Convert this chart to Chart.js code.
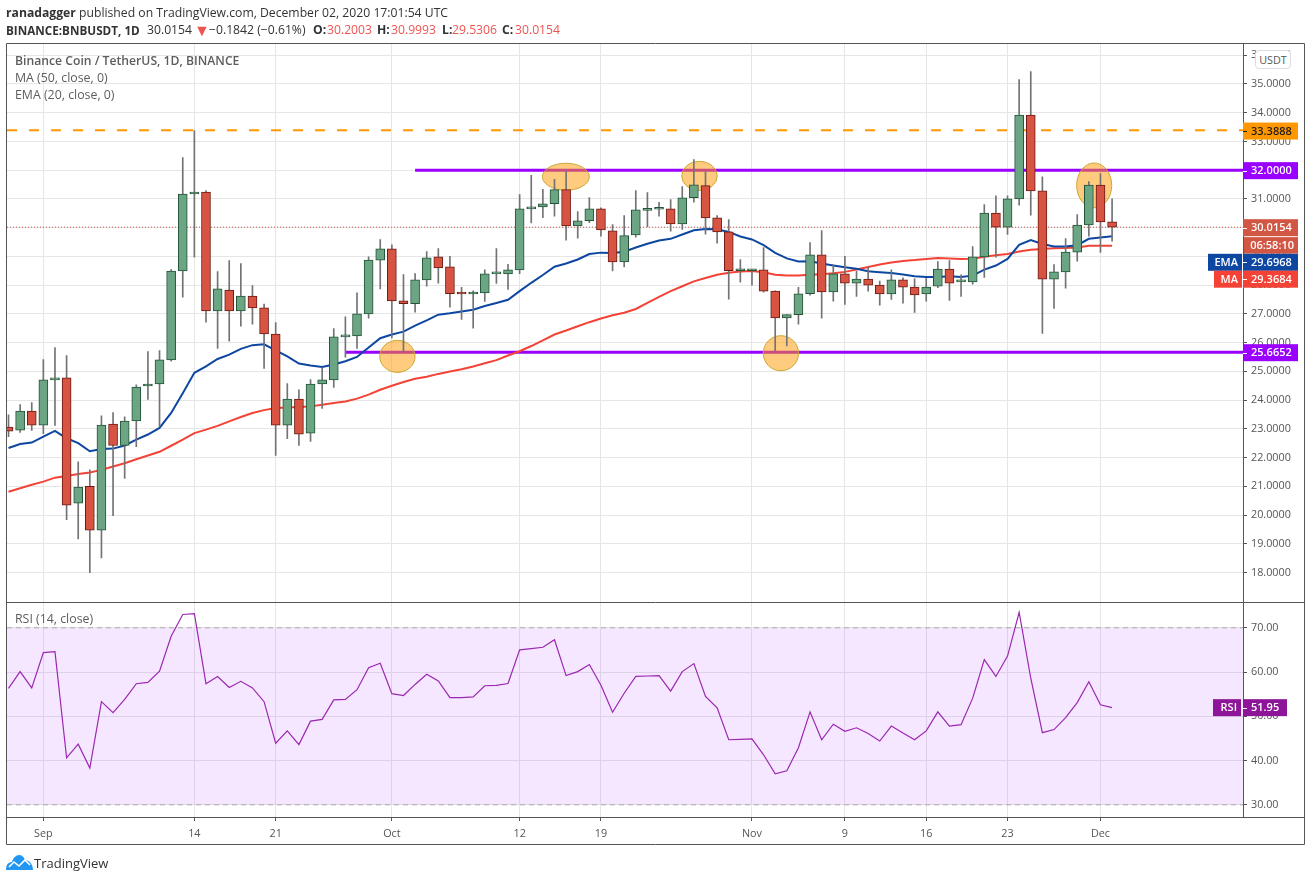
<!DOCTYPE html>
<html>
<head>
<meta charset="utf-8">
<title>BNBUSDT</title>
<script src="https://cdn.jsdelivr.net/npm/chart.js@4/dist/chart.umd.min.js"></script>
<style>
  html, body { margin: 0; padding: 0; background: #fff; overflow: hidden; }
  body { width: 1311px; height: 881px; position: relative; font-family: "Open Sans", sans-serif; }
  canvas { position: absolute; left: 0; top: 0; }
  .txt { position: absolute; white-space: nowrap; color: #333; line-height: 16px; }
  .head { font-size: 12.2px; left: 6px; color: #333; }
  .head b { font-weight: 700; }
  .row2 { top: 22px; }
  .red { color: #ef5350; }
  .leg { font-size: 12.35px; left: 15px; color: #5d5d5d; }
  #usdt { position: absolute; left: 1255px; top: 50px; width: 34px; height: 17px; border: 1px solid #dcdce6; border-radius: 4px;
          background: #fff; font-size: 10.8px; color: #555; text-align: center; line-height: 17px; }
  #logo { position: absolute; left: 6px; top: 855px; }
</style>
</head>
<body>
<canvas id="chart" width="1311" height="881"></canvas>
<div class="txt head" style="top:5px"><b>ranadagger</b> published on TradingView.com, December 02, 2020 17:01:54 UTC</div>
<div class="txt head row2" style="font-size:11.7px"><b>BINANCE:BNBUSDT, 1D</b></div>
<div class="txt head row2" style="left:147px">30.0154</div>
<div class="txt head row2 red" style="left:194px;font-size:16px">&#9660;</div>
<div class="txt head row2" style="left:209px">&minus;0.1842 (&minus;0.61%)</div>
<div class="txt head row2" style="left:313px"><b>O:</b></div>
<div class="txt head row2 red" style="left:327px">30.2003</div>
<div class="txt head row2" style="left:377px"><b>H:</b></div>
<div class="txt head row2 red" style="left:391px">30.9993</div>
<div class="txt head row2" style="left:442px"><b>L:</b></div>
<div class="txt head row2 red" style="left:452px">29.5306</div>
<div class="txt head row2" style="left:502px"><b>C:</b></div>
<div class="txt head row2 red" style="left:515px">30.0154</div>
<div class="txt leg" style="top:53px;font-weight:600;font-size:12.2px">Binance Coin / TetherUS, 1D, BINANCE</div>
<div class="txt leg" style="top:70px">MA (50, close, 0)</div>
<div class="txt leg" style="top:87px">EMA (20, close, 0)</div>
<div class="txt leg" style="top:611px">RSI (14, close)</div>
<div id="usdt">USDT</div>
<svg id="logo" width="27" height="15" viewBox="0 0 27 15">
  <path d="M0 15 C0 9 3 7 6 7 C7 3 10 0 13 0 C16 0 18 2 19 5 C23 5 27 9 27 15 Z" fill="#2196f3"/>
  <path d="M3 12 L8 7 L13 11 L19 5 L24 10" stroke="#fff" stroke-width="1.6" fill="none"/>
</svg>
<div class="txt" style="left:34px;top:855px;font-size:13px;color:#333">TradingView</div>

<script>
// daily candles, first one is 29 Aug 2020
var opens = [23.06,22.95,23.62,23.13,24.70,24.77,20.41,21.00,19.47,23.16,22.42,23.27,24.49,24.56,25.40,28.49,
  31.17,31.24,27.10,27.83,27.10,27.62,27.21,26.30,23.13,24.03,22.85,24.56,24.70,26.20,26.23,27.00,
  28.87,29.26,27.45,27.35,28.18,28.98,28.64,27.71,27.69,27.73,28.39,28.39,28.53,30.65,30.72,30.83,
  31.32,30.06,30.24,30.65,29.89,28.81,29.75,30.60,30.64,30.65,30.13,31.04,31.46,30.34,29.85,28.50,
  28.50,28.53,27.79,26.86,26.97,27.70,29.05,27.76,28.39,28.07,28.21,28.00,27.69,28.18,27.93,27.69,
  27.96,28.56,28.11,28.11,28.98,30.51,30.02,31.00,33.92,31.28,28.21,28.46,29.15,30.09,31.48,30.20];
var highs = [23.49,23.84,23.91,25.41,25.83,25.55,21.85,21.57,23.45,23.56,23.42,24.53,25.69,25.72,28.54,32.44,
  33.38,31.29,28.47,28.85,28.75,27.98,27.34,26.70,24.57,24.36,24.71,25.12,26.49,26.90,27.73,28.98,
  29.58,29.40,28.37,28.40,29.17,29.27,29.00,27.92,27.80,28.53,29.27,28.72,31.15,31.82,31.33,31.68,
  31.97,30.56,31.05,30.69,30.11,30.42,31.29,31.22,30.88,30.98,31.43,32.37,31.95,30.42,30.28,28.89,
  28.55,29.31,27.80,26.97,27.92,29.48,29.90,28.71,29.00,28.49,28.63,28.14,28.53,28.25,28.22,28.24,
  28.82,28.85,28.36,29.34,30.80,31.11,31.11,35.15,35.43,31.77,28.71,29.62,30.45,31.60,31.88,31.00];
var lows = [22.73,22.87,22.94,22.83,23.12,19.84,19.17,17.99,18.51,19.98,21.27,22.38,24.02,23.08,25.35,27.58,
  28.97,26.71,25.80,26.05,26.57,26.64,25.10,22.07,22.66,22.42,22.56,23.71,24.44,25.49,25.80,26.85,
  27.87,26.16,25.68,27.06,27.96,28.07,27.23,26.81,26.50,27.43,28.06,27.85,28.40,30.16,30.35,30.40,
  29.56,29.63,30.17,29.70,28.49,28.63,29.67,30.03,30.40,29.88,29.94,30.89,29.77,29.46,27.51,28.10,
  28.00,27.75,25.72,25.88,26.64,27.65,26.85,27.44,27.33,27.61,27.79,27.30,27.50,27.37,27.05,27.44,
  27.91,27.47,27.61,28.03,28.27,28.97,29.76,30.78,30.43,26.32,27.19,27.89,28.83,29.70,29.14,29.53];
var closes = [22.92,23.62,23.13,24.70,24.77,20.34,20.97,19.47,23.13,22.42,23.27,24.45,24.56,25.40,28.49,31.17,
  31.24,27.10,27.87,27.10,27.62,27.21,26.30,23.13,24.03,22.81,24.56,24.70,26.20,26.23,27.00,28.87,
  29.26,27.45,27.35,28.18,28.95,28.60,27.70,27.69,27.72,28.39,28.43,28.53,30.65,30.72,30.83,31.32,
  30.06,30.24,30.65,29.92,28.81,29.72,30.62,30.62,30.66,30.13,31.04,31.49,30.34,29.85,28.50,28.50,
  28.53,27.79,26.86,26.97,27.70,29.05,27.76,28.39,28.07,28.21,28.00,27.69,28.18,27.93,27.66,27.93,
  28.56,28.07,28.14,28.98,30.51,30.02,31.00,33.92,31.28,28.21,28.46,29.15,30.09,31.48,30.20,30.0154];

var ema20 = [22.33,22.47,22.52,22.73,22.93,22.67,22.50,22.22,22.30,22.31,22.42,22.62,22.80,23.03,23.55,24.24,
  24.95,25.17,25.43,25.58,25.78,25.91,25.94,25.73,25.52,25.27,25.20,25.15,25.24,25.35,25.50,25.83,
  26.15,26.28,26.38,26.59,26.77,26.97,27.02,27.08,27.14,27.27,27.38,27.49,27.79,28.08,28.35,28.64,
  28.75,28.89,29.08,29.13,29.12,29.16,29.31,29.44,29.55,29.61,29.76,29.91,29.95,29.94,29.85,29.69,
  29.59,29.39,29.12,28.93,28.82,28.83,28.75,28.68,28.62,28.57,28.48,28.45,28.42,28.37,28.31,28.28,
  28.28,28.31,28.28,28.33,28.54,28.68,28.91,29.40,29.57,29.43,29.34,29.34,29.39,29.61,29.66,29.6968];
var ma50 = [20.81,20.93,21.05,21.16,21.30,21.36,21.43,21.48,21.57,21.69,21.80,21.94,22.07,22.20,22.41,22.62,
  22.85,22.97,23.10,23.26,23.41,23.55,23.65,23.72,23.74,23.76,23.78,23.84,23.90,23.95,24.05,24.19,
  24.36,24.50,24.63,24.74,24.81,24.91,24.99,25.07,25.17,25.28,25.39,25.55,25.70,25.88,26.08,26.28,
  26.42,26.57,26.71,26.84,26.95,27.04,27.17,27.38,27.59,27.79,27.96,28.13,28.25,28.36,28.43,28.47,
  28.49,28.45,28.36,28.33,28.33,28.36,28.38,28.41,28.46,28.54,28.63,28.72,28.79,28.84,28.87,28.91,
  28.94,28.93,28.91,28.92,28.99,29.04,29.08,29.17,29.23,29.26,29.28,29.29,29.31,29.37,29.37,29.3684];
var rsi14 = [56.3,60.1,56.4,64.4,64.6,40.6,43.7,38.3,53.3,50.8,53.8,57.35,57.65,60.2,68.1,73.0,
  73.2,57.35,59.0,56.5,57.9,56.4,53.3,43.9,46.7,43.6,48.9,49.3,53.7,53.8,56.0,61.0,
  62.0,55.1,54.7,57.2,59.5,58.0,54.2,54.2,54.4,56.9,57.0,57.4,65.0,65.3,65.6,67.3,
  59.2,60.1,61.7,57.0,50.9,55.2,59.0,59.1,59.2,55.7,60.1,61.9,54.5,51.9,44.7,44.8,
  44.9,41.3,37.0,37.7,42.9,51.0,44.7,48.2,46.6,47.4,46.1,44.4,47.8,46.2,44.7,46.7,
  51.0,47.8,48.1,54.1,62.8,59.0,63.6,73.5,58.6,46.3,47.0,49.7,53.1,57.8,52.6,51.95];

var tickBars = [3,16,23,33,44,51,64,72,79,86,94];
var tickNames = ["Sep","14","21","Oct","12","19","Nov","9","16","23","Dec"];
var priceTicks = [18,19,20,21,22,23,24,25,26,27,28,29,30,31,32,33,34,35,36];
var rsiTicks = [30,40,50,60,70];

var resistance = 33.3888;
var upperLevel = 32;
var lowerLevel = 25.6652;
var lastPrice = 30.0154;

// orange marks: bar, price, half width in bars, half height in price
var markBars = [33.48,47.98,59.48,66.49,93.46];
var markPrices = [25.52,31.77,31.80,25.63,31.47];
var markW = [1.52,2.02,1.53,1.52,1.51];
var markH = [0.557,0.47,0.505,0.61,0.78];

var XMIN = -0.13, XMAX = 106.27;
var UP = "#6ba583", DOWN = "#d75442", UPB = "#225437", DOWNB = "#6b1a13";

function pts(arr) { return arr.map(function(v, i) { return {x: i, y: v}; }); }
function lvl(from, v) { return [{x: from, y: v}, {x: XMAX, y: v}]; }

var n = closes.length;
var isUp = closes.map(function(c, i) { return c >= opens[i]; });

var marksPlugin = {
  id: "marks",
  beforeDatasetDraw: function(chart, args) {
    if (chart.data.datasets[args.index].label !== "MA") return;
    var ctx = chart.ctx, xs = chart.scales.x, ys = chart.scales.y;
    ctx.save();
    for (var i = 0; i < markBars.length; i++) {
      var cx = xs.getPixelForValue(markBars[i]), cy = ys.getPixelForValue(markPrices[i]);
      var rx = xs.getPixelForValue(markBars[i] + markW[i]) - cx;
      var ry = cy - ys.getPixelForValue(markPrices[i] + markH[i]);
      ctx.beginPath();
      ctx.ellipse(cx, cy, rx, ry, 0, 0, Math.PI * 2);
      ctx.fillStyle = "rgba(255,152,0,0.5)";
      ctx.fill();
      ctx.strokeStyle = "#c9a832";
      ctx.lineWidth = 1;
      ctx.stroke();
    }
    ctx.restore();
  }
};

function badge(ctx, l, r, cy, h, bg, fg, text, tick) {
  ctx.fillStyle = bg;
  ctx.fillRect(l, cy - h / 2, r - l, h);
  if (tick) {
    ctx.strokeStyle = fg;
    ctx.lineWidth = 1;
    ctx.beginPath();
    ctx.moveTo(1243, Math.round(cy) + 0.5);
    ctx.lineTo(1247, Math.round(cy) + 0.5);
    ctx.stroke();
  }
  ctx.fillStyle = fg;
  ctx.textBaseline = "middle";
  ctx.textAlign = "left";
  ctx.fillText(text, tick ? 1251 : r - ctx.measureText(text).width - 4, cy + 0.5);
}

var framePlugin = {
  id: "frame",
  afterDraw: function(chart) {
    var ctx = chart.ctx, a = chart.chartArea, ys = chart.scales.y, yr = chart.scales.rsi;
    ctx.save();
    ctx.strokeStyle = "#555";
    ctx.lineWidth = 1;
    ctx.beginPath();
    ctx.rect(6.5, 43.5, 1298, 801);
    ctx.moveTo(6.5, Math.round(ys.bottom) + 0.5); ctx.lineTo(1304.5, Math.round(ys.bottom) + 0.5);
    ctx.moveTo(6.5, Math.round(a.bottom) + 0.5); ctx.lineTo(1304.5, Math.round(a.bottom) + 0.5);
    ctx.stroke();

    ctx.font = "600 11px 'Open Sans'";
    var L = 1243, R = 1298;
    badge(ctx, L, R, ys.getPixelForValue(resistance) + 0.8, 17, "#ff9800", "#1c1c1c", "33.3888", true);
    badge(ctx, L, R, ys.getPixelForValue(upperLevel) + 0.5, 17, "#9900ff", "#fff", "32.0000", true);
    badge(ctx, L, R, ys.getPixelForValue(lowerLevel) + 0.5, 17, "#9900ff", "#fff", "25.6652", true);
    var cy = ys.getPixelForValue(lastPrice) + 0.5;
    badge(ctx, L, R, cy, 17, "#d15644", "#fff", "30.0154", true);
    badge(ctx, L + 1, R, cy + 17.7, 16.5, "#d15644", "#fff", "06:58:10", false);
    // EMA and MA tags are pushed down by the countdown so they do not overlap
    badge(ctx, L, R, 262.3, 17, "#0d47a1", "#fff", "29.6968", true);
    badge(ctx, 1208, 1242, 262.3, 17, "#0d47a1", "#fff", "EMA", false);
    badge(ctx, L, R, 279.2, 17, "#f44336", "#fff", "29.3684", true);
    badge(ctx, 1214, 1242, 279.2, 17, "#f44336", "#fff", "MA", false);

    var ry = yr.getPixelForValue(rsi14[n - 1]);
    badge(ctx, L, 1287, ry, 17, "#8e1599", "#fff", "51.95", true);
    badge(ctx, 1213, 1241, ry, 17, "#8e1599", "#fff", "RSI", false);
    ctx.restore();
  }
};

var AXIS = "#555", GRID = "#e6e6e6", TICKFONT = {family: "'Open Sans'", size: 10.8};

var chart = new Chart(document.getElementById("chart"), {
  type: "bar",
  plugins: [marksPlugin, framePlugin],
  data: {
    datasets: [
      {type: "line", label: "band", yAxisID: "rsi", data: lvl(XMIN, 70), borderColor: "#aaa", borderWidth: 1, borderDash: [5, 4],
        fill: {value: 30}, backgroundColor: "rgba(153,21,255,0.1)", pointRadius: 0, order: 12},
      {type: "line", label: "band30", yAxisID: "rsi", data: lvl(XMIN, 30), borderColor: "#aaa", borderWidth: 1, borderDash: [5, 4], pointRadius: 0, order: 11},
      {type: "line", label: "RSI", yAxisID: "rsi", data: pts(rsi14), borderColor: "#9c27b0", borderWidth: 1.2, pointRadius: 0, tension: 0, order: 10},
      {type: "line", label: "resistance", data: lvl(XMIN, resistance), borderColor: "#ff9800", borderWidth: 2, borderDash: [10, 12], pointRadius: 0, order: 9},
      {type: "line", label: "upper", data: lvl(35, upperLevel), borderColor: "#9900ff", borderWidth: 3, pointRadius: 0, order: 8},
      {type: "line", label: "lower", data: lvl(29, lowerLevel), borderColor: "#9900ff", borderWidth: 3, pointRadius: 0, order: 7},
      {type: "line", label: "last", data: lvl(XMIN, lastPrice), borderColor: "#d15644", borderWidth: 1, borderDash: [1, 2], pointRadius: 0, order: 6},
      {type: "line", label: "MA", data: pts(ma50), borderColor: "#f44336", borderWidth: 2, pointRadius: 0, tension: 0, order: 5},
      {type: "line", label: "EMA", data: pts(ema20), borderColor: "#0d47a1", borderWidth: 2, pointRadius: 0, tension: 0, order: 4},
      {label: "wick", grouped: false, barThickness: 1, backgroundColor: "#737375", borderWidth: 0, order: 3,
        data: highs.map(function(h, i) { return {x: i, y: [lows[i], h]}; })},
      {label: "body", grouped: false, barThickness: 9, borderWidth: 1, borderSkipped: false, minBarLength: 2, order: 2,
        backgroundColor: isUp.map(function(u) { return u ? UP : DOWN; }),
        borderColor: isUp.map(function(u) { return u ? UPB : DOWNB; }),
        data: closes.map(function(c, i) { return {x: i, y: [opens[i], c]}; })}
    ]
  },
  options: {
    responsive: false,
    animation: false,
    devicePixelRatio: 1,
    layout: {padding: {left: 7, right: 7, top: 44, bottom: 37}},
    plugins: {legend: {display: false}, tooltip: {enabled: false}},
    scales: {
      x: {
        type: "linear", offset: false, min: XMIN, max: XMAX,
        afterBuildTicks: function(s) { s.ticks = tickBars.map(function(v) { return {value: v}; }); },
        afterFit: function(s) { s.height = 27; },
        grid: {offset: false, color: GRID, tickColor: AXIS, tickLength: 4},
        border: {color: AXIS},
        ticks: {
          font: TICKFONT, color: "#555", padding: 6, autoSkip: false, maxRotation: 0,
          callback: function(v) { return tickNames[tickBars.indexOf(v)]; }
        }
      },
      y: {
        position: "right", stack: "pane", stackWeight: 557.5, weight: 1, min: 16.99, max: 36.39,
        afterBuildTicks: function(s) { s.ticks = priceTicks.map(function(v) { return {value: v}; }); },
        afterFit: function(s) { s.width = 61; },
        grid: {color: GRID, tickColor: AXIS, tickLength: 4},
        border: {color: AXIS},
        ticks: {font: TICKFONT, color: "#555", padding: 4, autoSkip: false, callback: function(v) { return v.toFixed(4); }}
      },
      rsi: {
        position: "right", stack: "pane", stackWeight: 215.5, weight: 2, min: 27.24, max: 75.94,
        afterBuildTicks: function(s) { s.ticks = rsiTicks.map(function(v) { return {value: v}; }); },
        afterFit: function(s) { s.width = 61; },
        grid: {color: GRID, tickColor: AXIS, tickLength: 4},
        border: {color: AXIS},
        ticks: {font: TICKFONT, color: "#555", padding: 4, autoSkip: false, callback: function(v) { return v.toFixed(2); }}
      }
    }
  }
});
</script>
</body>
</html>
